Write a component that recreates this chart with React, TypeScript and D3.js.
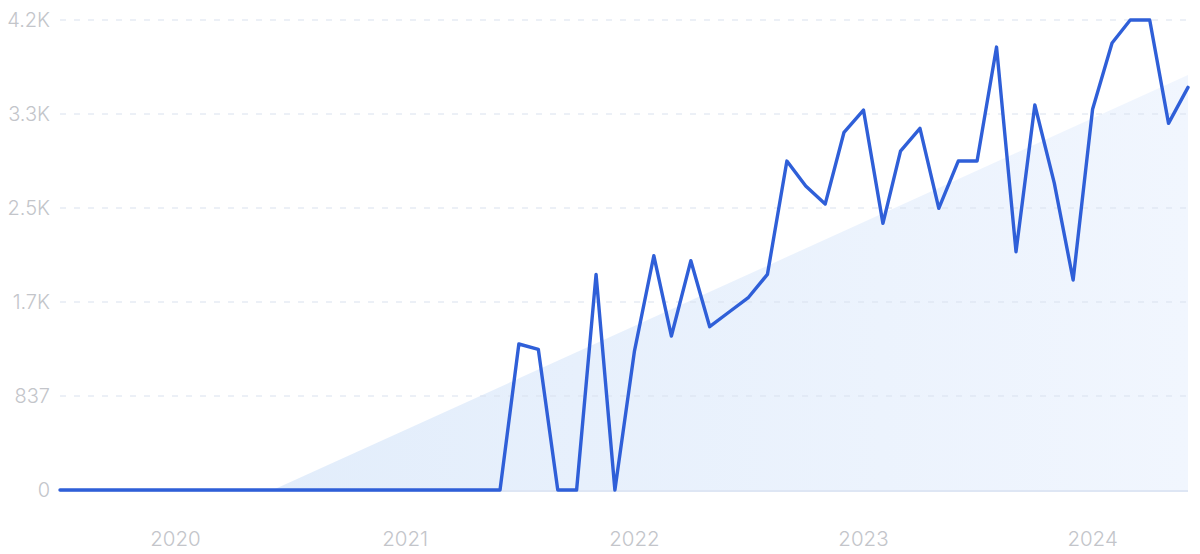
import React from "react";
import * as d3 from "d3";

const startMonth = "2019-07";
const values = [
  0, 0, 0, 0, 0, 0, 0, 0, 0, 0, 0, 0,
  0, 0, 0, 0, 0, 0, 0, 0, 0, 0, 0, 0,
  1300, 1253, 0, 0, 1920, 0,
  1232, 2086, 1371, 2042, 1454, 1585, 1710, 1920, 2929, 2707, 2546, 3185,
  3383, 2374, 3018, 3220, 2508, 2929, 2929, 3944, 2122, 3428, 2733, 1870,
  3390, 3980, 4185, 4185, 3265, 3585,
];
const yTicks = [0, 837, 1674, 2511, 3348, 4185];
const yTickLabels = ["0", "837", "1.7K", "2.5K", "3.3K", "4.2K"];
const xTickYears = [2020, 2021, 2022, 2023, 2024];
const trendStart = { date: "2020-06-04", value: 0 };
const trendEnd = { date: "2024-06-01", value: 3695 };

const W = 1200;
const H = 554;
const M = { left: 60, right: 12, top: 20, bottom: 64 };

export default function App() {
  const parse = d3.utcParse("%Y-%m");
  const d0 = parse(startMonth)!;
  const data = values.map((v, i) => ({ date: d3.utcMonth.offset(d0, i), value: v }));
  const x = d3
    .scaleUtc()
    .domain([data[0].date, data[data.length - 1].date])
    .range([M.left, W - M.right]);
  const y = d3.scaleLinear().domain([0, 4185]).range([H - M.bottom, M.top]);

  const line = d3
    .line<{ date: Date; value: number }>()
    .x((d) => x(d.date))
    .y((d) => y(d.value))
    .curve(d3.curveLinear);

  const pd = d3.utcParse("%Y-%m-%d");
  const t0 = { date: pd(trendStart.date)!, value: trendStart.value };
  const t1 = { date: pd(trendEnd.date)!, value: trendEnd.value };
  const trendArea = d3
    .area<{ date: Date; value: number }>()
    .x((d) => x(d.date))
    .y0(y(0))
    .y1((d) => y(d.value));

  const font = "Inter, Roboto, 'Noto Sans', sans-serif";
  const x0 = M.left;
  const x1 = W - M.right;

  return (
    <svg
      width={W}
      height={H}
      style={{ position: "absolute", left: 0, top: 0, background: "#fff" }}
    >
      <defs>
        <linearGradient id="trendGrad" x1="0" y1="0" x2="1" y2="0">
          <stop offset="0%" stopColor="#e2edfb" />
          <stop offset="100%" stopColor="#f1f6fe" />
        </linearGradient>
      </defs>
      <path d={trendArea([t0, t1]) || ""} fill="url(#trendGrad)" />
      {yTicks.map((t, i) => (
        <g key={t}>
          {i > 0 && (
            <line
              x1={x0}
              x2={x1}
              y1={y(t)}
              y2={y(t)}
              stroke="#d9e1ee"
              strokeWidth={1}
              strokeDasharray="6 8"
            />
          )}
          <text
            x={50}
            y={y(t)}
            dy="0.36em"
            textAnchor="end"
            fontFamily={font}
            fontSize={20}
            fontWeight={300}
            fill="#c3c5ca"
          >
            {yTickLabels[i]}
          </text>
        </g>
      ))}
      <line x1={x0} x2={x1} y1={y(0) + 1} y2={y(0) + 1} stroke="#d3def0" strokeWidth={1.5} />
      {xTickYears.map((yr) => (
        <text
          key={yr}
          x={x(Date.UTC(yr, 0, 1))}
          y={546}
          textAnchor="middle"
          fontFamily={font}
          fontSize={20.5}
          fontWeight={300}
          fill="#c3c5ca"
        >
          {yr}
        </text>
      ))}
      <path
        d={line(data) || ""}
        fill="none"
        stroke="#2f5fd8"
        strokeWidth={3.4}
        strokeLinejoin="round"
        strokeLinecap="round"
      />
    </svg>
  );
}
